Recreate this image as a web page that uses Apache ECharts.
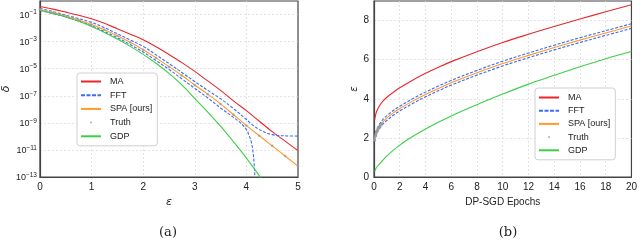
<!DOCTYPE html>
<html>
<head>
<meta charset="utf-8">
<script src="https://cdn.jsdelivr.net/npm/echarts@6/dist/echarts.min.js"></script>
<style>html,body{margin:0;padding:0;background:#fff;}#c{width:640px;height:240px;}</style>
</head>
<body>
<div id="c"></div>
<script>
// ---------- Panel (a): delta vs epsilon, values are log10(delta) ----------
const maA = [[0,-0.41],[0.25,-0.6],[0.5,-0.82],[0.75,-1.05],[1,-1.31],[1.25,-1.65],[1.5,-2.05],[1.75,-2.45],[2,-2.86],[2.25,-3.38],[2.5,-3.95],[2.75,-4.55],[3,-5.2],[3.25,-5.9],[3.5,-6.6],[3.75,-7.38],[4,-8.1],[4.25,-8.88],[4.5,-9.65],[4.75,-10.35],[5,-11.05]];
const fftUpperA = [[0,-0.55],[0.25,-0.78],[0.5,-1.05],[0.75,-1.3],[1,-1.58],[1.25,-1.97],[1.5,-2.42],[1.75,-2.88],[2,-3.35],[2.25,-3.98],[2.5,-4.62],[2.75,-5.28],[3,-5.95],[3.25,-6.6],[3.5,-7.22],[3.75,-7.95],[4,-8.75],[4.1,-9.1],[4.2,-9.38],[4.3,-9.6],[4.4,-9.76],[4.5,-9.87],[4.6,-9.93],[4.75,-9.96],[5,-9.98]];
const fftLowerA = [[0,-0.7],[0.25,-0.93],[0.5,-1.18],[0.75,-1.48],[1,-1.83],[1.25,-2.25],[1.5,-2.71],[1.75,-3.22],[2,-3.77],[2.25,-4.4],[2.5,-5.05],[2.75,-5.75],[3,-6.45],[3.25,-7.15],[3.5,-7.9],[3.75,-8.6],[3.9,-9.05],[4,-9.5],[4.05,-9.9],[4.1,-10.5],[4.13,-11.2],[4.15,-12.0],[4.16,-12.6],[4.165,-13.3]];
const spaA = [[0,-0.63],[0.25,-0.86],[0.5,-1.12],[0.75,-1.4],[1,-1.73],[1.25,-2.12],[1.5,-2.56],[1.75,-3.05],[2,-3.6],[2.25,-4.2],[2.5,-4.85],[2.75,-5.5],[3,-6.2],[3.25,-6.88],[3.5,-7.6],[3.75,-8.4],[4,-9.2],[4.25,-9.95],[4.5,-10.7],[4.75,-11.45],[5,-12.2]];
const truthA = [[0,-0.63],[0.25,-0.86],[0.5,-1.12],[0.75,-1.4],[1,-1.73],[1.25,-2.12],[1.5,-2.56],[1.75,-3.05],[2,-3.6],[2.25,-4.2],[2.5,-4.85],[2.75,-5.5],[3,-6.2],[3.25,-6.88],[3.5,-7.6],[3.75,-8.4],[4,-9.2],[4.25,-9.95],[4.5,-10.7],[4.75,-11.45],[5,-12.2]];
const gdpA = [[0,-0.68],[0.25,-0.92],[0.5,-1.18],[0.75,-1.5],[1,-1.88],[1.25,-2.32],[1.5,-2.81],[1.75,-3.35],[2,-3.94],[2.25,-4.6],[2.5,-5.35],[2.75,-6.2],[3,-7.2],[3.25,-8.2],[3.5,-9.25],[3.75,-10.4],[4,-11.6],[4.25,-12.9],[4.3,-13.2]];

// ---------- Panel (b): epsilon vs DP-SGD epochs ----------
const maB = [[0.05,2.9],[0.1,3.1],[0.2,3.35],[0.35,3.55],[0.5,3.72],[0.75,3.92],[1,4.08],[1.5,4.33],[2,4.56],[3,4.95],[4,5.3],[5,5.61],[6,5.9],[8,6.41],[10,6.88],[12,7.3],[14,7.7],[16,8.08],[18,8.45],[20,8.81]];
const fftUpperB = [[0.05,2.02],[0.1,2.2],[0.2,2.42],[0.35,2.62],[0.5,2.78],[0.75,2.98],[1,3.14],[1.5,3.4],[2,3.62],[3,4.0],[4,4.34],[5,4.65],[6,4.94],[8,5.45],[10,5.92],[12,6.34],[14,6.74],[16,7.12],[18,7.48],[20,7.84]];
const fftLowerB = [[0.05,1.8],[0.1,1.96],[0.2,2.18],[0.35,2.38],[0.5,2.54],[0.75,2.74],[1,2.9],[1.5,3.16],[2,3.38],[3,3.76],[4,4.1],[5,4.41],[6,4.7],[8,5.21],[10,5.68],[12,6.1],[14,6.5],[16,6.88],[18,7.24],[20,7.6]];
const spaB = [[0.05,1.9],[0.1,2.08],[0.2,2.3],[0.35,2.5],[0.5,2.66],[0.75,2.86],[1,3.02],[1.5,3.28],[2,3.5],[3,3.88],[4,4.22],[5,4.53],[6,4.82],[8,5.33],[10,5.8],[12,6.22],[14,6.62],[16,7.0],[18,7.36],[20,7.72]];
const truthB = [[0.05,1.9],[0.1,2.08],[0.15,2.2],[0.2,2.3],[0.25,2.37],[0.3,2.44],[0.35,2.5],[0.4,2.55],[0.45,2.61],[0.5,2.66],[0.55,2.7],[0.6,2.74]];
const gdpB = [[0.05,0.28],[0.2,0.5],[0.5,0.72],[1,1.08],[2,1.63],[3,2.07],[4,2.46],[6,3.12],[8,3.7],[10,4.24],[12,4.75],[14,5.2],[16,5.64],[18,6.05],[20,6.42]];

// ---------- Axis ticks ----------
const xTicksA = {min: 0, max: 5, step: 1};
const yExpA = {min: -13, max: 0, step: 2};
const xTicksB = {min: 0, max: 20, step: 2};
const yTicksB = {min: 0, max: 9, step: 2};

const colors = {MA: '#e8272d', FFT: '#3a6cf4', SPA: '#ff9a2c', Truth: '#9a9a9a', GDP: '#3ccf45'};

const chart = echarts.init(document.getElementById('c'), null, {renderer: 'canvas'});
const dashIcon = 'path://M0,0h4v1h-4zM5.5,0h4v1h-4zM11,0h4v1h-4zM16.5,0h3.5v1h-3.5z';
const gridLine = {show: true, showMinLine: false, showMaxLine: false, lineStyle: {color: '#dcdcdc', type: [2, 2], width: 0.8}};

function lineSeries(name, data, color, xi, dashed, z) {
  return {
    name: name, type: 'line', data: data, xAxisIndex: xi, yAxisIndex: xi,
    symbol: 'none', showSymbol: false, smooth: 0.35, z: z,
    lineStyle: {color: color, width: 1.1, type: dashed ? [3, 1.6] : 'solid'},
    itemStyle: {color: color}, animation: false
  };
}
function truthSeries(data, xi, size) {
  return {name: 'Truth', type: 'scatter', data: data, xAxisIndex: xi, yAxisIndex: xi,
    symbol: 'circle', symbolSize: size, z: 6, itemStyle: {color: colors.Truth}, animation: false};
}
function legendCfg(left, top, gap, pad) {
  return {
    left: left, top: top, orient: 'vertical', itemWidth: 20, itemHeight: 2, itemGap: gap,
    padding: pad, backgroundColor: '#fff', borderColor: '#d0d0d0', borderWidth: 1, borderRadius: 3,
    symbolKeepAspect: false, selectedMode: false,
    textStyle: {fontFamily: 'Liberation Sans', fontSize: 9, color: '#222', padding: [0, 0, 0, 4]},
    data: [
      {name: 'MA', icon: 'rect'},
      {name: 'FFT', icon: dashIcon},
      {name: 'SPA [ours]', icon: 'rect'},
      {name: 'Truth', icon: 'circle'},
      {name: 'GDP', icon: 'rect'}
    ]
  };
}
const labelFont = {fontFamily: 'Liberation Sans', fontSize: 10, color: '#222'};
const frameLine = {show: true, onZero: false, lineStyle: {color: '#444', width: 1.2}};

chart.setOption({
  animation: false,
  textStyle: {fontFamily: 'Liberation Sans'},
  title: [
    {text: '(a)', left: 163, top: 221, textAlign: 'center', textStyle: {fontFamily: 'DejaVu Serif', fontSize: 13, fontWeight: 'normal', color: '#222'}},
    {text: '(b)', left: 503, top: 221, textAlign: 'center', textStyle: {fontFamily: 'DejaVu Serif', fontSize: 13, fontWeight: 'normal', color: '#222'}}
  ],
  grid: [
    {left: 37, right: 342, top: 1, bottom: 63, show: true, borderColor: '#444', borderWidth: 1.2, backgroundColor: '#fff'},
    {left: 374, right: 7, top: 1, bottom: 63, show: true, borderColor: '#444', borderWidth: 1.2, backgroundColor: '#fff'}
  ],
  xAxis: [
    {gridIndex: 0, type: 'value', min: xTicksA.min, max: xTicksA.max, interval: xTicksA.step,
     name: 'ε', nameLocation: 'middle', nameGap: 15,
     nameTextStyle: {fontFamily: 'DejaVu Sans', fontStyle: 'italic', fontSize: 11, color: '#222'},
     axisLine: frameLine, axisTick: {show: false}, splitLine: gridLine,
     axisLabel: Object.assign({margin: 5}, labelFont)},
    {gridIndex: 1, type: 'value', min: xTicksB.min, max: xTicksB.max, interval: xTicksB.step,
     name: 'DP-SGD Epochs', nameLocation: 'middle', nameGap: 16,
     nameTextStyle: {fontFamily: 'Liberation Sans', fontSize: 10, color: '#222'},
     axisLine: frameLine, axisTick: {show: false}, splitLine: gridLine,
     axisLabel: Object.assign({margin: 5}, labelFont)}
  ],
  yAxis: [
    {gridIndex: 0, type: 'value', min: yExpA.min, max: yExpA.max, interval: yExpA.step,
     name: 'δ', nameLocation: 'middle', nameGap: 27, nameRotate: 90,
     nameTextStyle: {fontFamily: 'DejaVu Sans', fontStyle: 'italic', fontSize: 11, color: '#222'},
     axisLine: frameLine, axisTick: {show: false}, splitLine: gridLine,
     axisLabel: {showMaxLabel: false, margin: 3, color: '#222',
       formatter: function (v) { return v === 0 ? '' : '{b|10}{s|−' + Math.abs(v) + '}'; },
       rich: {b: {fontFamily: 'Liberation Sans', fontSize: 9, color: '#222', verticalAlign: 'bottom'},
              s: {fontFamily: 'Liberation Sans', fontSize: 6.5, color: '#222', verticalAlign: 'bottom', padding: [0, 0, 4, 0]}}}},
    {gridIndex: 1, type: 'value', min: yTicksB.min, max: yTicksB.max, interval: yTicksB.step,
     name: 'ε', nameLocation: 'middle', nameGap: 12, nameRotate: 90,
     nameTextStyle: {fontFamily: 'DejaVu Sans', fontStyle: 'italic', fontSize: 10, color: '#222'},
     axisLine: frameLine, axisTick: {show: false}, splitLine: gridLine,
     axisLabel: Object.assign({showMaxLabel: false, margin: 5}, labelFont)}
  ],
  legend: [legendCfg(77, 73, 4.7, [4, 5, 5, 4]), legendCfg(535, 88, 4.2, [5, 5, 5, 4])],
  series: [
    lineSeries('MA', maA, colors.MA, 0, false, 2),
    lineSeries('FFT', fftUpperA, colors.FFT, 0, true, 3),
    lineSeries('FFT', fftLowerA, colors.FFT, 0, true, 3),
    lineSeries('SPA [ours]', spaA, colors.SPA, 0, false, 4),
    truthSeries(truthA, 0, 2.5),
    lineSeries('GDP', gdpA, colors.GDP, 0, false, 5),
    lineSeries('MA', maB, colors.MA, 1, false, 2),
    lineSeries('FFT', fftUpperB, colors.FFT, 1, true, 3),
    lineSeries('FFT', fftLowerB, colors.FFT, 1, true, 3),
    lineSeries('SPA [ours]', spaB, colors.SPA, 1, false, 4),
    truthSeries(truthB, 1, 3),
    lineSeries('GDP', gdpB, colors.GDP, 1, false, 5)
  ]
});
</script>
</body>
</html>
